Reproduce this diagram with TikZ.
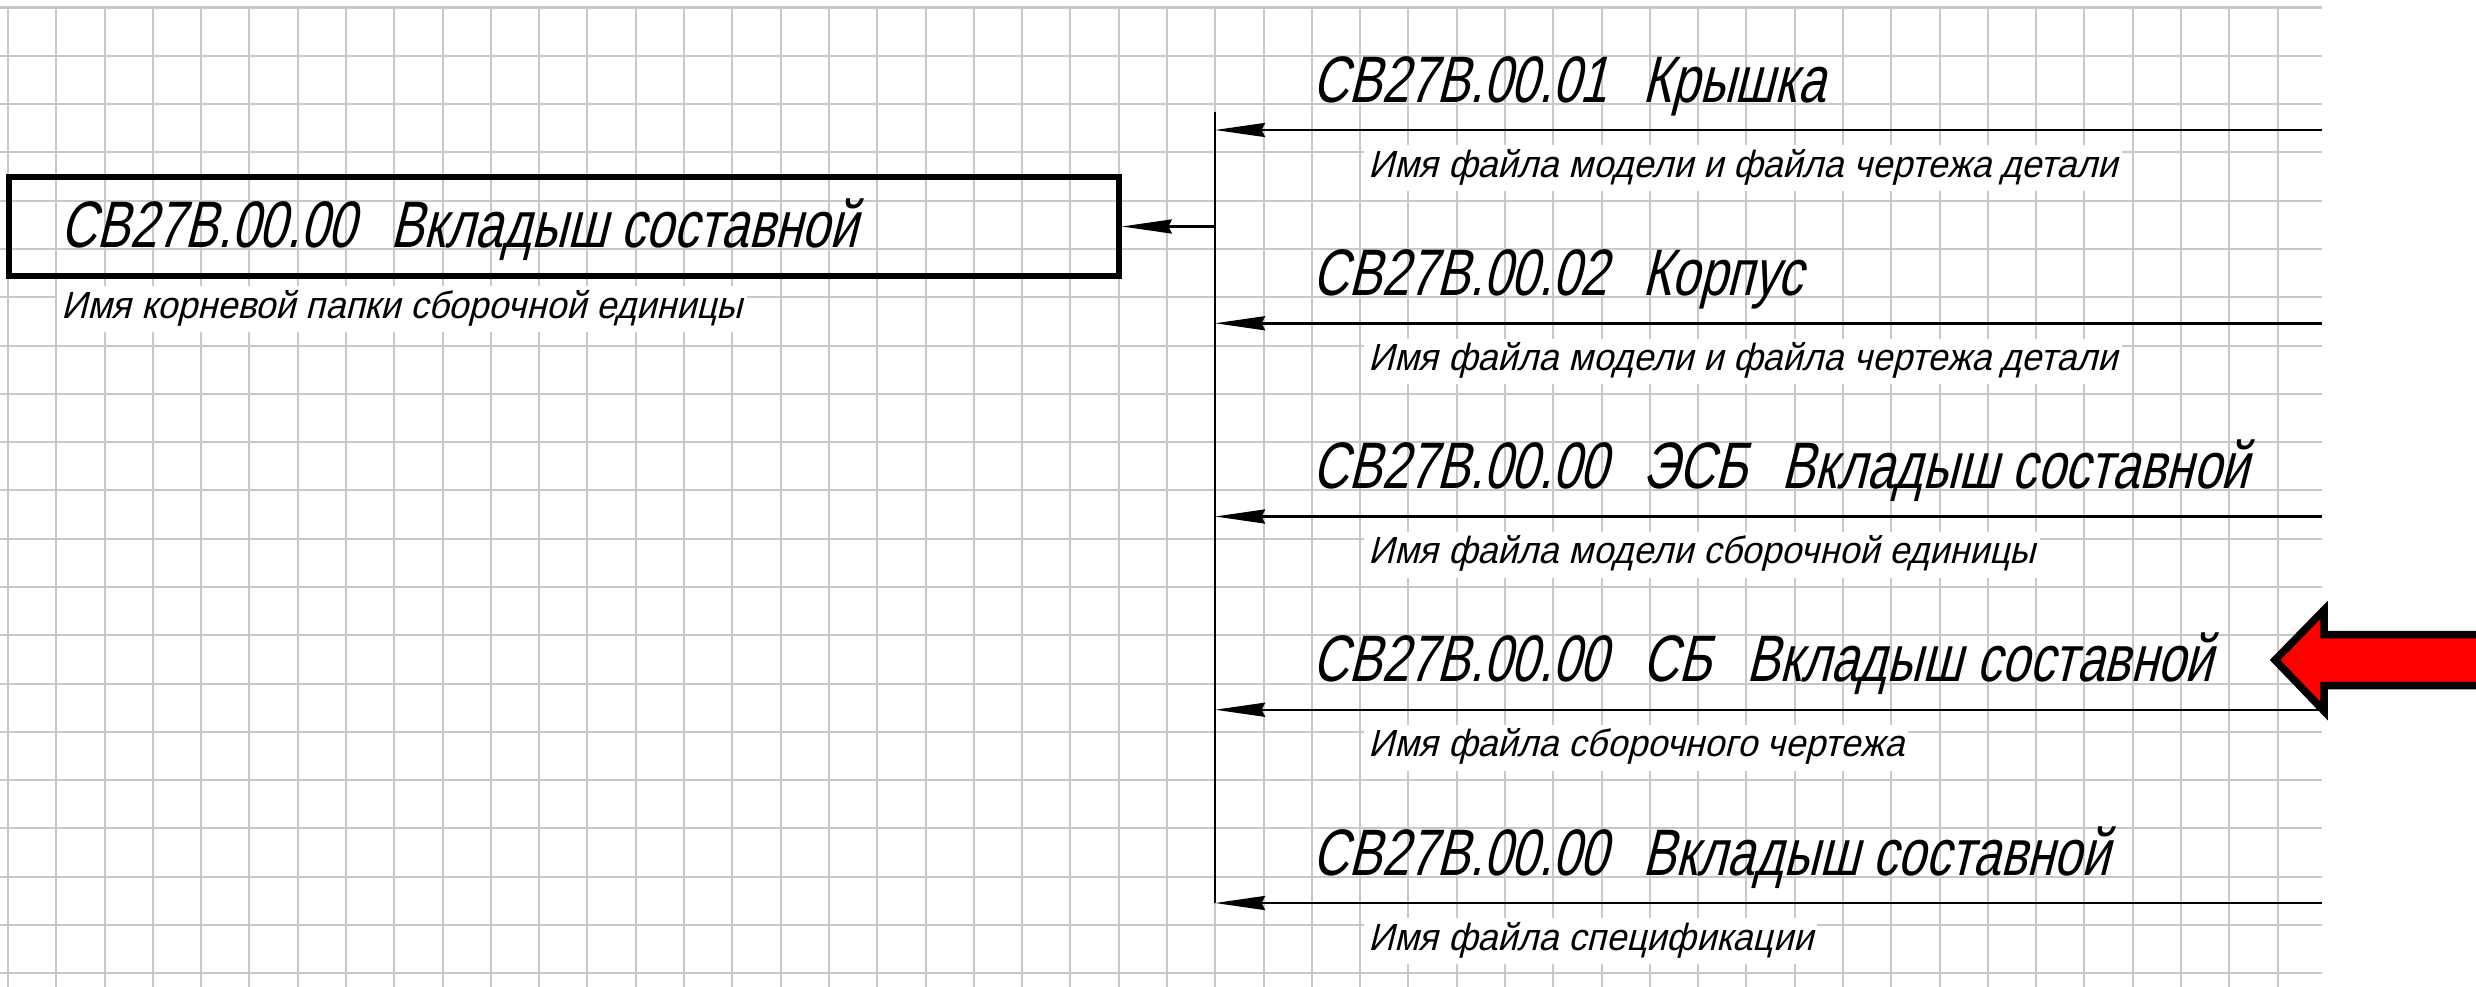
\documentclass[tikz,border=0pt]{standalone}
\usepackage{fontspec}
\usetikzlibrary{arrows.meta}
\newfontfamily\gostT{Liberation Sans}[FakeSlant=0.25,FakeStretch=0.755]
\newfontfamily\gostS{Liberation Sans}[FakeSlant=0.25,FakeStretch=0.95]
\definecolor{gridc}{RGB}{200,200,200}
\newcommand{\gapT}{\hspace{20pt}}
\begin{document}
\begin{tikzpicture}[x=0.02cm,y=-0.02cm,
  gridline/.style={draw=gridc,line width=1.14pt},
  rootbox/.style={draw=black,line width=3.41pt,minimum width=631.6pt,minimum height=56.3pt,inner sep=0pt},
  titletext/.style={anchor=base west,inner sep=0pt,font=\gostT\fontsize{37.4pt}{40pt}\selectfont},
  subtext/.style={anchor=base west,fill=white,inner xsep=2.3pt,inner ysep=1pt,text height=17pt,text depth=7pt,font=\gostS\fontsize{21.5pt}{24pt}\selectfont},
  conn/.style={draw=black,line width=1.42pt},
  arr/.style={-{Stealth[length=28.5pt,width=8pt,inset=2pt]}},
  bigarrow/.style={draw=black,fill=red,line width=4.27pt,line join=miter}
]
\useasboundingbox (0,0) rectangle (2476,987);
\fill[white] (0,0) rectangle (2476,987);
% grid
\foreach \k in {0,...,20} \draw[gridline] (0,{7.5+48.29*\k}) -- (2322,{7.5+48.29*\k});
\foreach \k in {0,...,47} \draw[gridline] ({8+48.29*\k},7.5) -- ({8+48.29*\k},987);

% root box
\node[rootbox] (root) at (564,226.5) {};
\node[titletext] (rootT) at (60,247) {СВ27В.00.00\gapT Вкладыш составной};
\node[subtext] (rootS) at (57,318) {Имя корневой папки сборочной единицы};

% coordinates
\coordinate (vt) at (1215,112);
\coordinate (jr) at (1215,226.5);
\coordinate (j1) at (1215,130);
\coordinate (j2) at (1215,323.25);
\coordinate (j3) at (1215,516.5);
\coordinate (j4) at (1215,709.75);
\coordinate (j5) at (1215,903);
\coordinate (e1) at (2322,130);
\coordinate (e2) at (2322,323.25);
\coordinate (e3) at (2322,516.5);
\coordinate (e4) at (2322,709.75);
\coordinate (e5) at (2322,903);

% rows
\node[titletext] (t1) at (1312,102) {СВ27В.00.01\gapT Крышка};
\node[subtext] (s1) at (1364,177) {Имя файла модели и файла чертежа детали};
\node[titletext] (t2) at (1312,295.25) {СВ27В.00.02\gapT Корпус};
\node[subtext] (s2) at (1364,370.25) {Имя файла модели и файла чертежа детали};
\node[titletext] (t3) at (1312,488.5) {СВ27В.00.00\gapT ЭСБ\gapT Вкладыш составной};
\node[subtext] (s3) at (1364,563.5) {Имя файла модели сборочной единицы};
\node[titletext] (t4) at (1312,681.75) {СВ27В.00.00\gapT СБ\gapT Вкладыш составной};
\node[subtext] (s4) at (1364,756.75) {Имя файла сборочного чертежа};
\node[titletext] (t5) at (1312,875) {СВ27В.00.00\gapT Вкладыш составной};
\node[subtext] (s5) at (1364,950) {Имя файла спецификации};

% connectors
\draw[conn] (vt) -- (j5);
\draw[conn,arr] (jr) -- (root.east);
\draw[conn,arr] (e1) -- (j1);
\draw[conn,arr] (e2) -- (j2);
\draw[conn,arr] (e3) -- (j3);
\draw[conn,arr] (e4) -- (j4);
\draw[conn,arr] (e5) -- (j5);

% red pointer
\draw[bigarrow] (2275,660) -- (2324,610) -- (2324,634.5) -- (2495,634.5) -- (2495,685.5) -- (2324,685.5) -- (2324,711) -- cycle;
\end{tikzpicture}
\end{document}
